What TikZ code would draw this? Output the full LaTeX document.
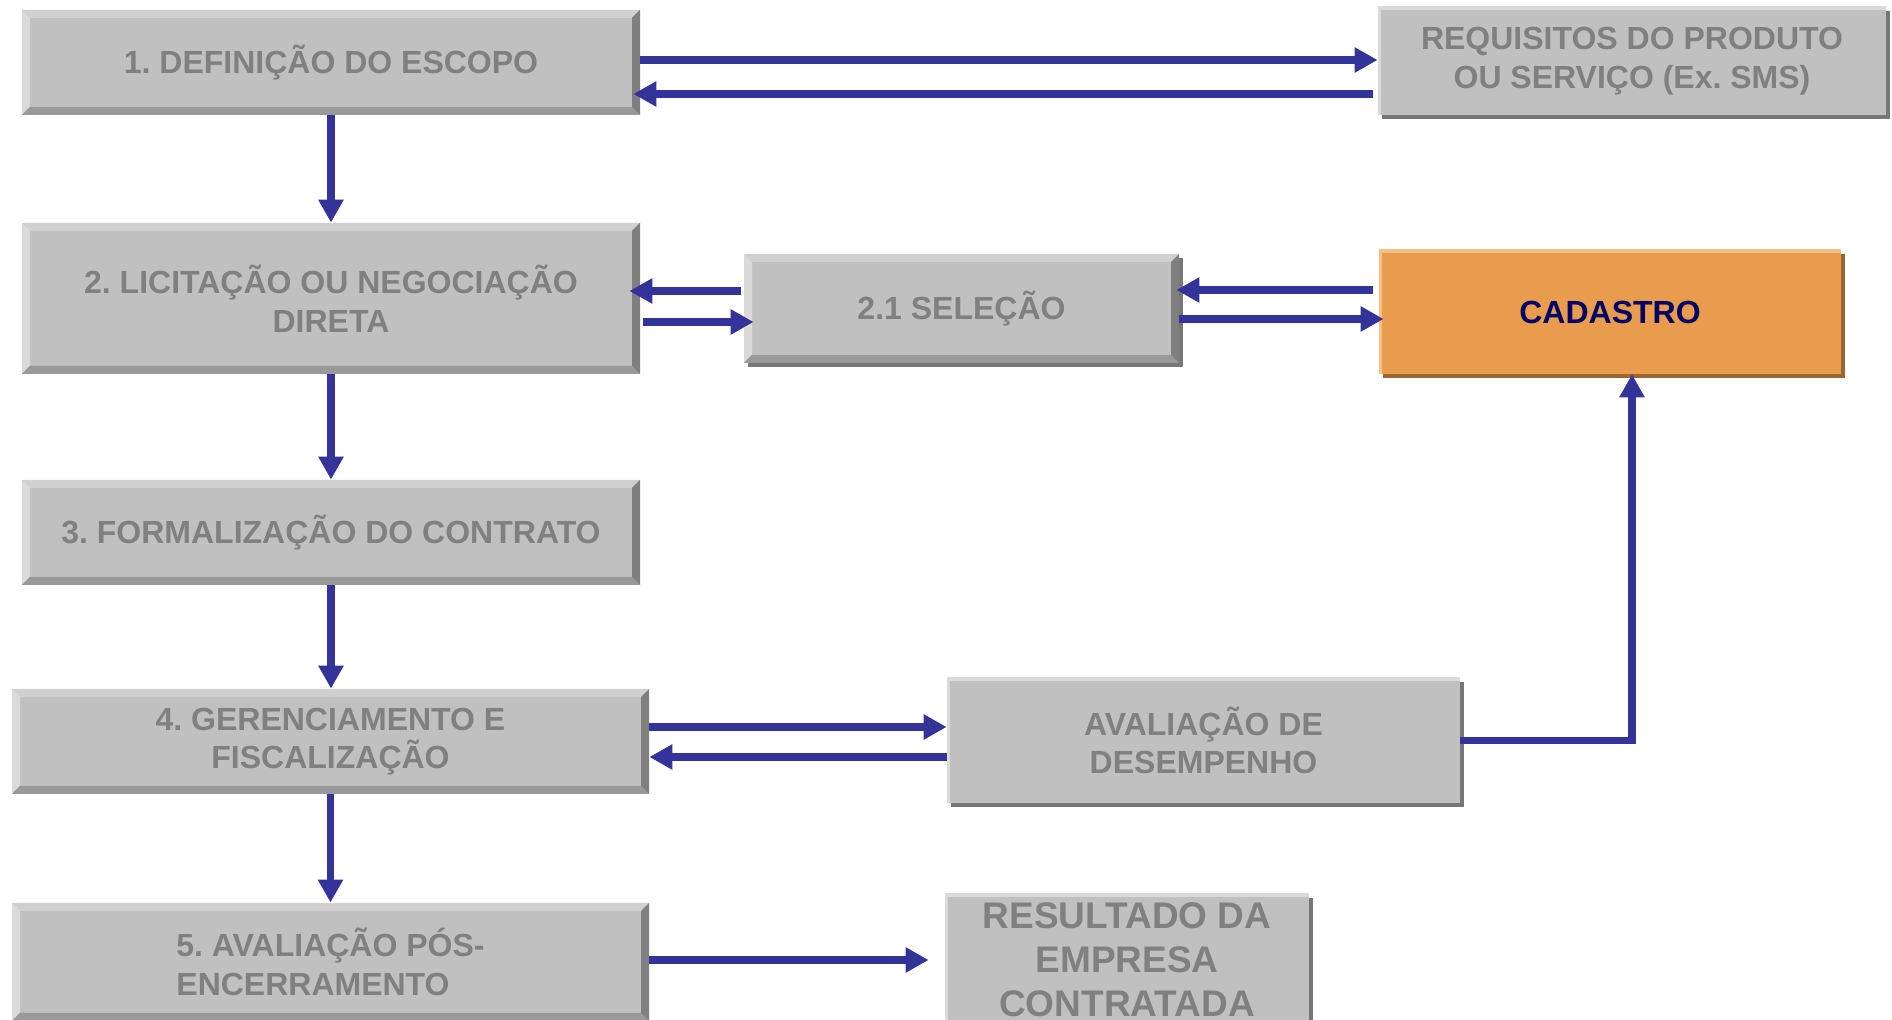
\documentclass[tikz,border=0pt]{standalone}
\usepackage{fontspec}
\setmainfont{Liberation Sans}
\frenchspacing
\usetikzlibrary{arrows.meta,shadows}
\definecolor{boxgray}{HTML}{C0C0C0}
\definecolor{textgray}{HTML}{808080}
\definecolor{bevtop}{HTML}{D0D0D0}
\definecolor{bevleft}{HTML}{DADADA}
\definecolor{bevbottom}{HTML}{999999}
\definecolor{bevright}{HTML}{7F7F7F}
\definecolor{shadowgray}{HTML}{777777}
\definecolor{cadorange}{HTML}{E99C4D}
\definecolor{cadshadow}{HTML}{996633}
\definecolor{cadlight}{HTML}{F5C08A}
\definecolor{cadtext}{HTML}{000066}
\definecolor{arrowblue}{HTML}{333399}
\tikzset{
  bevel/.style={
    path picture={
      \coordinate (nw) at (path picture bounding box.north west);
      \coordinate (se) at (path picture bounding box.south east);
      \fill[bevtop] (nw) -- (nw -| se) -- ([shift={(-4pt,-4pt)}]nw -| se) -- ([shift={(4pt,-4pt)}]nw) -- cycle;
      \fill[bevleft] (nw) -- (nw |- se) -- ([shift={(4pt,4pt)}]nw |- se) -- ([shift={(4pt,-4pt)}]nw) -- cycle;
      \fill[bevbottom] (nw |- se) -- (se) -- ([shift={(-4pt,4pt)}]se) -- ([shift={(4pt,4pt)}]nw |- se) -- cycle;
      \fill[bevright] (se) -- (nw -| se) -- ([shift={(-4pt,-4pt)}]nw -| se) -- ([shift={(-4pt,4pt)}]se) -- cycle;
    }
  },
  lightedge/.style={
    path picture={
      \draw[#1, line width=3pt] (path picture bounding box.south west) -- (path picture bounding box.north west) -- (path picture bounding box.north east);
    }
  },
  stage/.style={
    rectangle,
    minimum width=309pt,
    minimum height=52.5pt,
    inner sep=0pt,
    align=center,
    fill=boxgray,
    text=textgray,
    font=\bfseries\fontsize{16}{19.3}\selectfont,
    bevel
    },
  side/.style={
    rectangle,
    inner sep=0pt,
    align=center,
    fill=boxgray,
    text=textgray,
    font=\bfseries\fontsize{16}{19.3}\selectfont,
    lightedge=bevleft,
    drop shadow={shadow xshift=2pt, shadow yshift=-2pt, fill=shadowgray, opacity=1}
    },
  cadbox/.style={
    rectangle,
    inner sep=0pt,
    align=center,
    fill=cadorange,
    text=cadtext,
    font=\bfseries\fontsize{16}{19.3}\selectfont,
    lightedge=cadlight,
    drop shadow={shadow xshift=2pt, shadow yshift=-2pt, fill=cadshadow, opacity=1}
    },
  arrow/.style={line width=3.9pt, draw=arrowblue, -{Triangle[length=11.5pt,width=12pt]}},
}
\begin{document}
\begin{tikzpicture}[x=0.5pt,y=-0.5pt]
\clip (0,0) rectangle (1892,1020);
\node (box1) [stage] at (331,62.5) {1. DEFINIÇÃO DO ESCOPO};
\node (req) [side, minimum width=254pt, minimum height=54pt] at (1632,61) {REQUISITOS DO PRODUTO\\OU SERVIÇO (Ex. SMS)};
\node (box2) [stage, minimum height=75.5pt] at (331,298.5) {2. LICITAÇÃO OU NEGOCIAÇÃO\\DIRETA};
\node (sel) [stage, minimum width=217.5pt, minimum height=54.5pt,
  drop shadow={shadow xshift=2pt, shadow yshift=-2pt, fill=shadowgray, opacity=1}] at (961.5,308.5) {2.1 SELEÇÃO};
\node (cad) [cadbox, minimum width=231pt, minimum height=62pt] at (1610,312) {CADASTRO};
\node (box3) [stage] at (331,532.5) {3. FORMALIZAÇÃO DO CONTRATO};
\node (box4) [stage, minimum width=318.5pt] at (330.5,741.5) {4. GERENCIAMENTO E\\FISCALIZAÇÃO};
\node (aval) [side, minimum width=256.5pt, minimum height=62.5pt] at (1203.5,740.5) {AVALIAÇÃO DE\\DESEMPENHO};
\node (box5) [stage, minimum width=318.5pt, minimum height=59pt, align=left] at (330.5,962) {5. AVALIAÇÃO PÓS-\\ENCERRAMENTO};
\node (res) [side, minimum width=182pt, minimum height=66pt,
  font=\bfseries\fontsize{18.5}{22}\selectfont] at (1127,960) {RESULTADO DA\\EMPRESA\\CONTRATADA};
% escopo <-> requisitos
\draw[arrow] ([yshift=1.25pt]box1.east) -- ([yshift=1.25pt]box1.east -| req.west);
\draw[arrow, shorten <=2.5pt, shorten >=-3.5pt] ([yshift=-16.5pt]req.west) -- ([yshift=-16.5pt]req.west -| box1.east);
% main sequence
\draw[arrow] (box1.south) -- (box2.north);
\draw[arrow] (box2.south) -- (box3.north);
\draw[arrow] (box3.south) -- (box3.south |- box4.north);
\draw[arrow] (box4.south) -- (box5.north);
% selecao
\draw[arrow, shorten <=1.5pt, shorten >=-5.5pt] ([yshift=8.75pt]sel.west) -- ([yshift=8.75pt]sel.west -| box2.east);
\draw[arrow, shorten <=1.5pt, shorten >=-5pt] ([yshift=-11.75pt]box2.east) -- ([yshift=-11.75pt]box2.east -| sel.west);
\draw[arrow, shorten <=3pt, shorten >=-1.5pt] ([yshift=11pt]cad.west) -- ([yshift=11pt]cad.west -| sel.east);
\draw[arrow, shorten >=-2.5pt] ([yshift=-5.25pt]sel.east) -- ([yshift=-5.25pt]sel.east -| cad.west);
% avaliacao
\draw[arrow] ([yshift=7.25pt]box4.east) -- ([yshift=7.25pt]box4.east -| aval.west);
\draw[arrow] ([yshift=-8.25pt]aval.west) -- ([yshift=-8.25pt]aval.west -| box4.east);
\draw[arrow] (aval.east) -| ([xshift=11pt]cad.south);
\draw[arrow, shorten >=8pt] ([yshift=1pt]box5.east) -- ([yshift=1pt]box5.east -| res.west);
\end{tikzpicture}
\end{document}
